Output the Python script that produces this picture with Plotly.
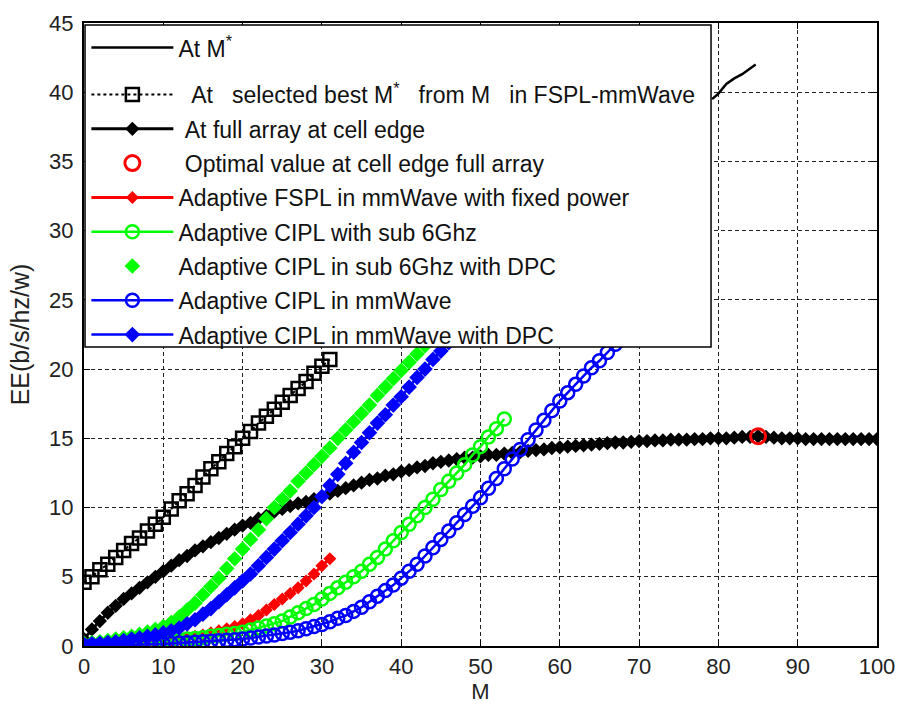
import plotly.graph_objects as go

# ---------------- data ----------------
# At M* (only the part visible to the right of the legend)
m_star_M = [79.2, 80.0, 81.0, 82.0, 83.0, 84.0, 84.7]
m_star_EE = [39.5, 39.9, 40.6, 41.0, 41.3, 41.7, 42.0]

# At selected best M* from M in FSPL-mmWave (squares)
sel_M = list(range(0, 32))
sel_EE = [4.6, 5.0, 5.5, 5.9, 6.4, 6.9, 7.4, 7.8, 8.3, 8.8, 9.3, 9.9, 10.5, 11.0,
          11.6, 12.2, 12.8, 13.3, 13.9, 14.4, 15.0, 15.5, 16.1, 16.6, 17.1, 17.6,
          18.1, 18.6, 19.1, 19.7, 20.2, 20.7]

# At full array at cell edge (black diamonds)
full_M = list(range(0, 101))
full_EE = [0.5, 1.2, 1.8, 2.4, 2.9, 3.4, 3.8, 4.2, 4.6, 5.0,
           5.4, 5.8, 6.2, 6.5, 6.9, 7.2, 7.5, 7.8, 8.1, 8.4,
           8.7, 8.9, 9.2, 9.4, 9.7, 9.9, 10.1, 10.3, 10.4, 10.6,
           10.8, 11.0, 11.2, 11.4, 11.6, 11.8, 12.0, 12.1, 12.3, 12.4,
           12.6, 12.7, 12.9, 13.0, 13.2, 13.3, 13.4, 13.5, 13.6, 13.6,
           13.7, 13.8, 13.8, 13.9, 13.95, 14.0, 14.1, 14.15, 14.2, 14.3,
           14.35, 14.4, 14.45, 14.5, 14.55, 14.6, 14.65, 14.7, 14.7, 14.75,
           14.8, 14.8, 14.85, 14.85, 14.9, 14.9, 14.9, 14.95, 14.95, 15.0,
           15.0, 15.0, 15.05, 15.1, 15.1, 15.15, 15.1, 15.05, 15.0, 15.0,
           15.0, 14.95, 14.95, 14.95, 14.95, 14.95, 14.95, 14.95, 14.95, 14.95,
           14.95]

# Optimal value at cell edge full array
opt_M = [85]
opt_EE = [15.15]

# Adaptive FSPL in mmWave with fixed power (red)
fspl_M = list(range(0, 32))
fspl_EE = [0.0, 0.02, 0.04, 0.06, 0.08, 0.1, 0.13, 0.16, 0.2, 0.25,
           0.3, 0.4, 0.5, 0.6, 0.7, 0.8, 0.95, 1.1, 1.25, 1.4,
           1.6, 1.9, 2.2, 2.6, 3.0, 3.4, 3.8, 4.2, 4.7, 5.2,
           5.8, 6.3]

# Adaptive CIPL with sub 6Ghz (green circles)
g6_M = list(range(0, 54))
g6_EE = [0.0, 0.02, 0.04, 0.06, 0.08, 0.1, 0.13, 0.16, 0.2, 0.25,
         0.3, 0.35, 0.4, 0.5, 0.55, 0.6, 0.7, 0.75, 0.85, 0.9,
         1.0, 1.15, 1.3, 1.45, 1.6, 1.8, 2.1, 2.4, 2.7, 3.0,
         3.4, 3.8, 4.2, 4.6, 5.0, 5.4, 5.9, 6.4, 7.0, 7.6,
         8.2, 8.8, 9.4, 10.0, 10.6, 11.3, 11.9, 12.5, 13.1, 13.8,
         14.4, 15.1, 15.7, 16.4]

# Adaptive CIPL in sub 6Ghz with DPC (green diamonds)
g6d_M = list(range(0, 44))
g6d_EE = [0.2, 0.25, 0.3, 0.4, 0.5, 0.6, 0.7, 0.85, 1.0, 1.2,
          1.4, 1.7, 2.1, 2.6, 3.1, 3.7, 4.3, 4.9, 5.6, 6.3,
          7.0, 7.7, 8.4, 9.2, 10.0, 10.6, 11.2, 11.9, 12.5, 13.1,
          13.7, 14.3, 15.0, 15.6, 16.2, 16.8, 17.4, 18.1, 18.7, 19.3,
          19.9, 20.5, 21.1, 21.7]

# Adaptive CIPL in mmWave (blue circles)
mm_M = list(range(0, 68))
mm_EE = [0.0, 0.01, 0.02, 0.03, 0.04, 0.05, 0.07, 0.09, 0.11, 0.13,
         0.15, 0.18, 0.21, 0.24, 0.27, 0.3, 0.34, 0.38, 0.42, 0.46,
         0.5, 0.57, 0.65, 0.72, 0.8, 0.9, 1.0, 1.1, 1.25, 1.4,
         1.55, 1.75, 2.0, 2.2, 2.5, 2.8, 3.2, 3.6, 4.0, 4.4,
         4.9, 5.4, 5.9, 6.5, 7.1, 7.7, 8.3, 8.9, 9.5, 10.1,
         10.7, 11.4, 12.1, 12.8, 13.5, 14.2, 14.9, 15.6, 16.3, 17.0,
         17.7, 18.3, 18.9, 19.5, 20.1, 20.6, 21.2, 21.8]

# Adaptive CIPL in mmWave with DPC (blue diamonds)
mmd_M = list(range(0, 47))
mmd_EE = [0.1, 0.15, 0.2, 0.25, 0.3, 0.4, 0.5, 0.6, 0.7, 0.8,
          0.95, 1.1, 1.3, 1.6, 1.9, 2.3, 2.7, 3.2, 3.7, 4.2,
          4.7, 5.2, 5.8, 6.4, 7.0, 7.6, 8.2, 8.8, 9.4, 10.0,
          10.8, 11.6, 12.4, 13.2, 14.0, 14.7, 15.4, 16.1, 16.7, 17.4,
          18.0, 18.7, 19.4, 20.0, 20.7, 21.3, 21.9]

x_ticks = [0, 10, 20, 30, 40, 50, 60, 70, 80, 90, 100]
y_ticks = [0, 5, 10, 15, 20, 25, 30, 35, 40, 45]

NB = "\u00a0"
names = [
    "At M<sup>*</sup>",
    NB * 2 + "At" + NB * 3 + "selected best M<sup>*</sup>" + NB * 3 + "from M" + NB * 3
    + "in FSPL-mmWave",
    NB + "At full array at cell edge",
    NB + "Optimal value at cell edge full array",
    "Adaptive FSPL in mmWave with fixed power",
    "Adaptive CIPL with sub 6Ghz",
    "Adaptive CIPL in sub 6Ghz with DPC",
    "Adaptive CIPL in mmWave",
    "Adaptive CIPL in mmWave with DPC",
]

RED = "#ff0000"
GREEN = "#00ff00"
BLUE = "#0000ff"

fig = go.Figure()

fig.add_trace(go.Scatter(x=m_star_M, y=m_star_EE, mode="lines", name=names[0],
                         legend="legend", legendgroup="g1",
                         line=dict(color="black", width=2.5)))
fig.add_trace(go.Scatter(x=sel_M, y=sel_EE, mode="lines+markers", name=names[1],
                         legend="legend2", legendgroup="g2",
                         line=dict(color="black", width=2, dash="dot"),
                         marker=dict(symbol="square-open", size=13, color="black",
                                     line=dict(width=2.5, color="black"))))
fig.add_trace(go.Scatter(x=full_M, y=full_EE, mode="lines+markers", name=names[2],
                         legend="legend2", legendgroup="g3",
                         line=dict(color="black", width=3),
                         marker=dict(symbol="diamond", size=11, color="black")))
fig.add_trace(go.Scatter(x=opt_M, y=opt_EE, mode="markers", name=names[3],
                         legend="legend2", legendgroup="g4",
                         marker=dict(symbol="circle-open", size=15, color=RED,
                                     line=dict(width=3, color=RED))))
fig.add_trace(go.Scatter(x=fspl_M, y=fspl_EE, mode="lines+markers", name=names[4],
                         legend="legend2", legendgroup="g5",
                         line=dict(color=RED, width=3),
                         marker=dict(symbol="diamond", size=10, color=RED)))
fig.add_trace(go.Scatter(x=g6_M, y=g6_EE, mode="lines+markers", name=names[5],
                         legend="legend2", legendgroup="g6",
                         line=dict(color=GREEN, width=2.5),
                         marker=dict(symbol="circle-open", size=13, color=GREEN,
                                     line=dict(width=2.5, color=GREEN))))
fig.add_trace(go.Scatter(x=g6d_M, y=g6d_EE, mode="markers", name=names[6],
                         legend="legend2", legendgroup="g7",
                         marker=dict(symbol="diamond", size=12, color=GREEN)))
fig.add_trace(go.Scatter(x=mm_M, y=mm_EE, mode="lines+markers", name=names[7],
                         legend="legend2", legendgroup="g8",
                         line=dict(color=BLUE, width=2.5),
                         marker=dict(symbol="circle-open", size=13, color=BLUE,
                                     line=dict(width=2.5, color=BLUE))))
fig.add_trace(go.Scatter(x=mmd_M, y=mmd_EE, mode="lines+markers", name=names[8],
                         legend="legend2", legendgroup="g9",
                         line=dict(color=BLUE, width=2.5),
                         marker=dict(symbol="diamond", size=12, color=BLUE)))

FONT = "Arial, Liberation Sans, sans-serif"

axis_common = dict(
    showline=True, linecolor="black", linewidth=2, mirror="allticks",
    ticks="inside", ticklen=6, tickcolor="black", tickwidth=1,
    showgrid=True, gridcolor="#222222", gridwidth=1, griddash="4px,3px",
    zeroline=False, automargin=False,
    tickfont=dict(family=FONT, size=22, color="#222222"),
)

fig.update_xaxes(range=[0, 100], tickvals=x_ticks, ticktext=[str(v) for v in x_ticks],
                 title=dict(text="M", font=dict(family=FONT, size=22, color="#222222"), standoff=4),
                 **axis_common)
fig.update_yaxes(range=[0, 45], tickvals=y_ticks, ticktext=[str(v) for v in y_ticks],
                 title=dict(text="EE(b/s/hz/w)", font=dict(family=FONT, size=25, color="#222222"),
                            standoff=12),
                 ticklabelstandoff=4,
                 **axis_common)

legend_common = dict(
    xanchor="left", yanchor="top",
    bgcolor="rgba(0,0,0,0)", borderwidth=0,
    font=dict(family=FONT, size=23, color="#111111"),
    traceorder="grouped", tracegroupgap=1.4, itemwidth=82,
)

fig.update_layout(
    width=898, height=706,
    margin=dict(l=84, r=21, t=23, b=60, autoexpand=False),
    paper_bgcolor="white", plot_bgcolor="white",
    showlegend=True,
    legend=dict(x=0.003, y=0.995, **legend_common),
    legend2=dict(x=0.003, y=0.9197, **legend_common),
    shapes=[dict(type="rect", xref="paper", yref="paper",
                 x0=0.0013, x1=0.7907, y0=0.48, y1=0.9968,
                 fillcolor="white", line=dict(color="black", width=1.5),
                 layer="above")],
)

fig.write_html("out.html")
